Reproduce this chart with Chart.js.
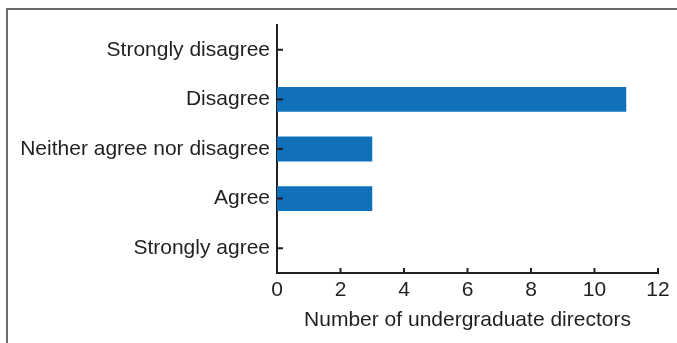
<!DOCTYPE html>
<html>
<head>
<meta charset="utf-8">
<script src="https://cdn.jsdelivr.net/npm/chart.js@4.4.1/dist/chart.umd.min.js"></script>
<style>
  html, body { margin: 0; padding: 0; background: #fff; overflow: hidden; }
  #wrap { position: relative; width: 677px; height: 343px; }
  #frame {
    position: absolute; left: 6px; top: 8px; width: 800px; height: 500px;
    border-top: 2px solid #6b6b6b; border-left: 2px solid #6b6b6b;
  }
  canvas { position: absolute; left: 0; top: 0; }
</style>
</head>
<body>
<div id="wrap">
  <div id="frame"></div>
  <canvas id="chart" width="677" height="343"></canvas>
</div>
<script>
const categories = ['Strongly disagree', 'Disagree', 'Neither agree nor disagree', 'Agree', 'Strongly agree'];
const directors = [0, 11, 3, 3, 0];
const xTicks = [0, 2, 4, 6, 8, 10, 12];

const ink = '#231f20';
const font = { family: '"Liberation Sans", Arial, sans-serif', size: 21 };

// short tick marks pointing into the plot, like a printed figure
const inwardTicks = {
  id: 'inwardTicks',
  afterDraw(chart) {
    const ctx = chart.ctx;
    const x = chart.scales.x, y = chart.scales.y;
    ctx.save();
    ctx.strokeStyle = ink;
    ctx.lineWidth = 2;
    ctx.beginPath();
    xTicks.forEach(v => {
      const px = x.getPixelForValue(v);
      ctx.moveTo(px, x.top);
      ctx.lineTo(px, x.top - 5);
    });
    categories.forEach((c, i) => {
      const py = y.getPixelForValue(i);
      ctx.moveTo(y.right, py);
      ctx.lineTo(y.right + 6, py);
    });
    ctx.stroke();
    ctx.restore();
  }
};

new Chart(document.getElementById('chart'), {
  type: 'bar',
  data: {
    labels: categories,
    datasets: [{
      data: directors,
      backgroundColor: '#1170ba',
      barPercentage: 0.5,
      categoryPercentage: 1
    }]
  },
  options: {
    indexAxis: 'y',
    responsive: false,
    animation: false,
    layout: { padding: { left: 0, right: 19, top: 25, bottom: 0 } },
    plugins: { legend: { display: false }, tooltip: { enabled: false } },
    scales: {
      x: {
        min: 0,
        max: 12,
        afterBuildTicks: s => { s.ticks = xTicks.map(v => ({ value: v })); },
        grid: { display: false, drawTicks: false },
        border: { display: true, color: ink, width: 2 },
        ticks: { color: ink, font: font, padding: 5, maxRotation: 0 },
        title: {
          display: true,
          text: 'Number of undergraduate directors',
          color: ink,
          font: font,
          padding: { top: 0, bottom: 10 }
        },
        afterFit: s => { s.height = 70; }
      },
      y: {
        grid: { display: false, drawTicks: false },
        border: { display: true, color: ink, width: 2 },
        ticks: { color: ink, font: font, padding: 7 },
        afterFit: s => { s.width = 277; }
      }
    }
  },
  plugins: [inwardTicks]
});
</script>
</body>
</html>
